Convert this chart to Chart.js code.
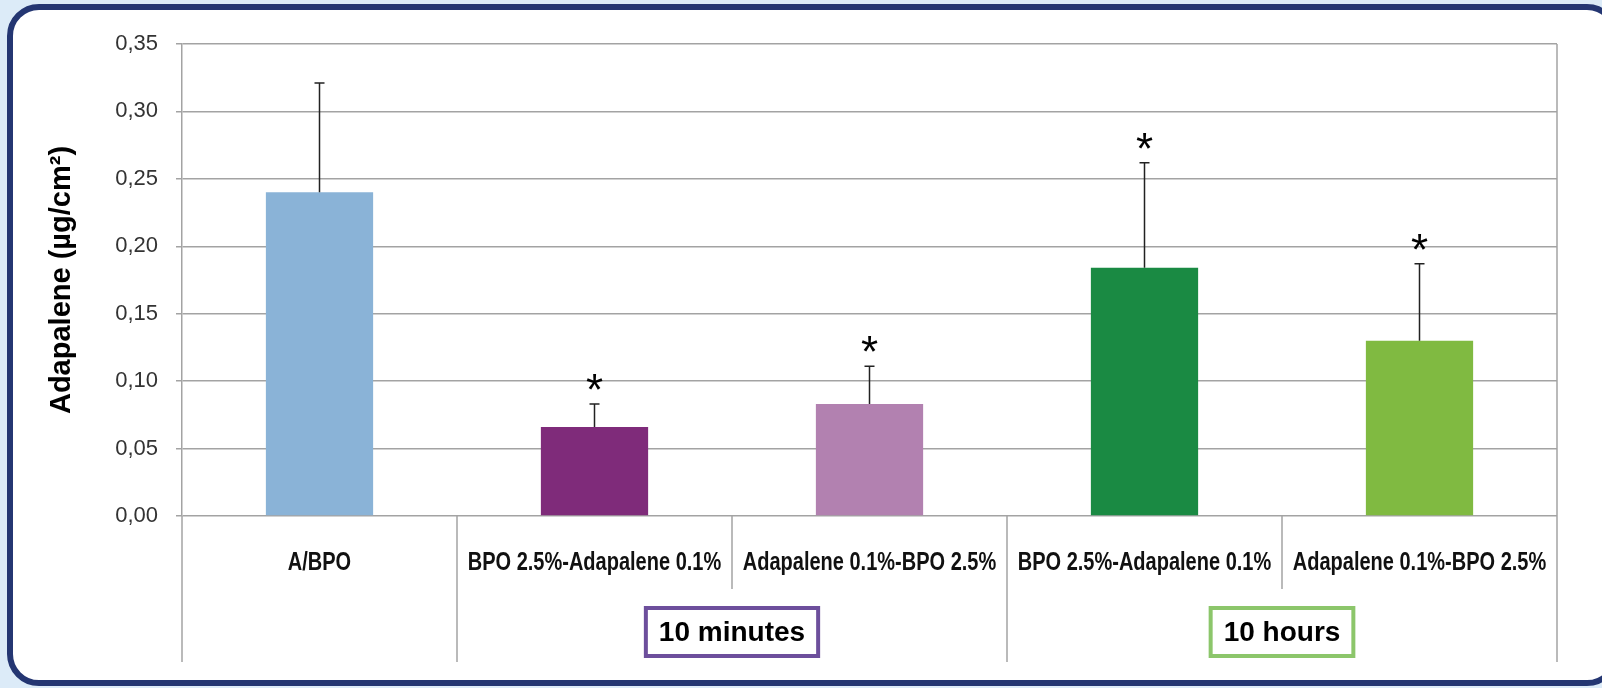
<!DOCTYPE html>
<html>
<head>
<meta charset="utf-8">
<script src="https://cdn.jsdelivr.net/npm/chart.js@4.4.1/dist/chart.umd.min.js"></script>
<style>
    html, body { margin: 0; padding: 0; background: #dcebf8; overflow: hidden; }
    .frame {
        position: absolute; left: 7px; top: 4px; width: 1612px; height: 682px;
        box-sizing: border-box; border: 6px solid #243672; border-radius: 32px; background: #fff;
    }
    .wrap { position: absolute; left: 0; top: 0; width: 1602px; height: 688px; }
</style>
</head>
<body>
<div class="frame"></div>
<div class="wrap"><canvas id="chart" width="1602" height="688"></canvas></div>
<script>
// data
const categories = ['A/BPO', 'BPO 2.5%-Adapalene 0.1%', 'Adapalene 0.1%-BPO 2.5%', 'BPO 2.5%-Adapalene 0.1%', 'Adapalene 0.1%-BPO 2.5%'];
const means = [0.240, 0.066, 0.083, 0.184, 0.130];
const errUp = [0.081, 0.017, 0.028, 0.078, 0.057];
const significant = [false, true, true, true, true];
const groupLabels = ['10 minutes', '10 hours'];
const groupStart = [1, 3];   // first category of each 2-bar group
const yTicks = [0, 0.05, 0.10, 0.15, 0.20, 0.25, 0.30, 0.35];

const barColors = ['#8ab3d7', '#7f2b7a', '#b281b0', '#1a8a43', '#80ba41'];
const groupColors = ['#6d4f9c', '#8cc66b'];
const gridColor = '#a3a3a3';

Chart.defaults.font.family = '"Liberation Sans", Arial, sans-serif';

const decor = {
    id: 'decor',
    afterDatasetsDraw(chart) {
        const {ctx, scales: {y}} = chart;
        const meta = chart.getDatasetMeta(0);
        ctx.save();
        ctx.strokeStyle = '#222';
        ctx.lineWidth = 1.5;
        meta.data.forEach((bar, i) => {
            const top = y.getPixelForValue(means[i] + errUp[i]);
            ctx.beginPath();
            ctx.moveTo(bar.x, bar.y);
            ctx.lineTo(bar.x, top);
            ctx.moveTo(bar.x - 5, top);
            ctx.lineTo(bar.x + 5, top);
            ctx.stroke();
            if (significant[i]) {
                ctx.fillStyle = '#000';
                ctx.font = '44px "Liberation Sans", Arial';
                ctx.textAlign = 'center';
                ctx.textBaseline = 'alphabetic';
                ctx.fillText('*', bar.x, top + 1);
            }
        });
        ctx.restore();
    },
    afterDraw(chart) {
        const {ctx, scales: {x}, chartArea} = chart;
        const half = (x.getPixelForValue(1) - x.getPixelForValue(0)) / 2;
        const edge = b => x.getPixelForValue(0) - half + 2 * half * b;
        ctx.save();
        ctx.strokeStyle = gridColor;
        ctx.lineWidth = 1.5;
        for (let b = 0; b <= categories.length; b++) {
            const inner = groupStart.some(s => s + 1 === b);
            ctx.beginPath();
            ctx.moveTo(edge(b), b === categories.length ? chartArea.top : chartArea.bottom);
            ctx.lineTo(edge(b), inner ? 589 : 662);
            ctx.stroke();
        }
        // category labels, condensed bold
        ctx.fillStyle = '#111';
        ctx.font = 'bold 25px "Liberation Sans", Arial';
        ctx.textAlign = 'center';
        ctx.textBaseline = 'middle';
        categories.forEach((label, i) => {
            ctx.save();
            ctx.translate(x.getPixelForValue(i), 563);
            ctx.scale(0.8, 1);
            ctx.fillText(label, 0, 0);
            ctx.restore();
        });
        // group boxes
        ctx.font = 'bold 28px "Liberation Sans", Arial';
        groupLabels.forEach((label, g) => {
            const cx = edge(groupStart[g] + 1);
            const w = ctx.measureText(label).width + 26;
            ctx.strokeStyle = groupColors[g];
            ctx.lineWidth = 4;
            ctx.strokeRect(cx - w / 2, 608, w, 48);
            ctx.fillStyle = '#000';
            ctx.fillText(label, cx, 633);
        });
        ctx.restore();
    }
};

new Chart(document.getElementById('chart'), {
    type: 'bar',
    data: {
        labels: categories,
        datasets: [{
            data: means,
            backgroundColor: barColors,
            barPercentage: 0.39,
            categoryPercentage: 1
        }]
    },
    options: {
        responsive: false,
        animation: false,
        layout: { padding: { left: 45, right: 45, top: 44, bottom: 0 } },
        plugins: { legend: { display: false }, tooltip: { enabled: false } },
        scales: {
            x: {
                afterFit: s => { s.height = 172 },
                grid: { display: false, drawTicks: false },
                border: { display: false },
                ticks: { display: false }
            },
            y: {
                min: 0, max: 0.35,
                afterFit: s => { s.width = 137 },
                afterBuildTicks: s => { s.ticks = yTicks.map(v => ({value: v})) },
                grid: { color: gridColor, lineWidth: 1.5, tickLength: 6 },
                border: { color: gridColor, width: 1.5 },
                ticks: {
                    padding: 18, color: '#333', font: { size: 22 },
                    callback: v => v.toFixed(2).replace('.', ',')
                },
                title: {
                    display: true, text: 'Adapalene (µg/cm²)', color: '#000', padding: 0,
                    font: { size: 29, weight: 'bold' }
                }
            }
        }
    },
    plugins: [decor]
});
</script>
</body>
</html>
